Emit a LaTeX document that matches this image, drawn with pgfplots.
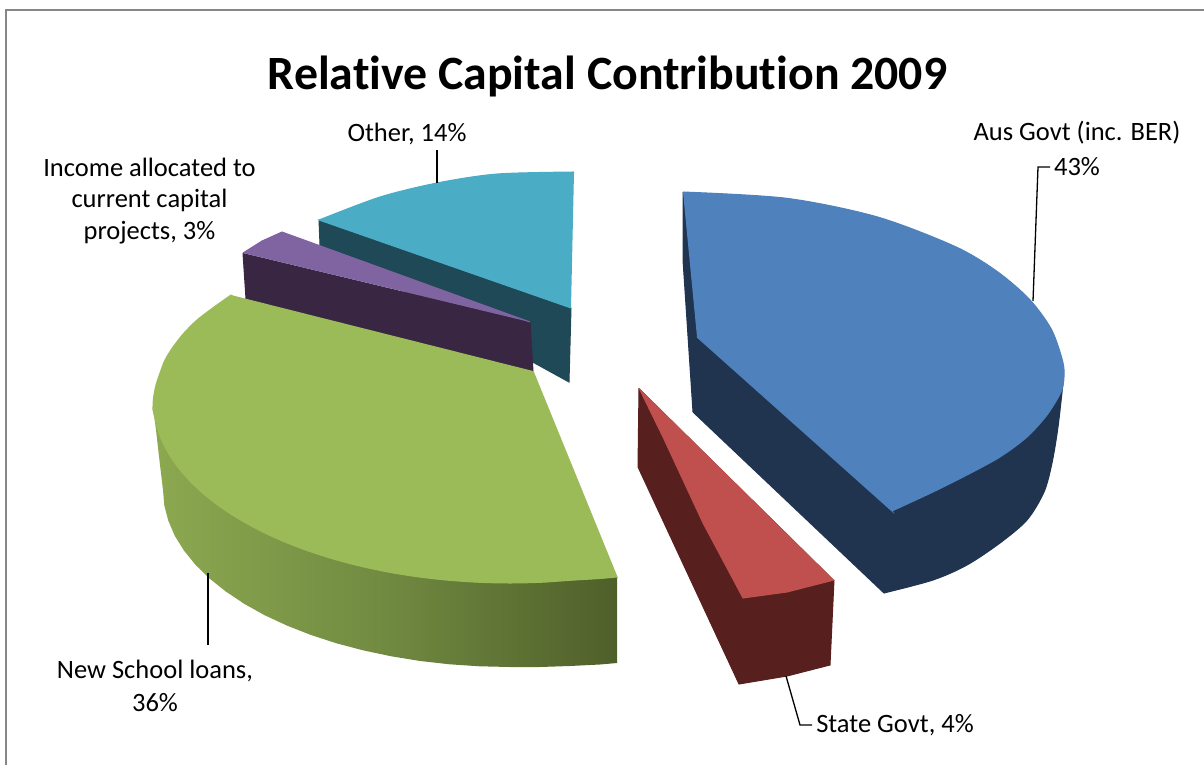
\documentclass[border=0pt]{standalone}
\usepackage{pgfplots}
\pgfplotsset{compat=1.18}
\usepackage{fontspec}
\setmainfont{Carlito}[Ligatures=CommonOff]
\definecolor{bluetop}{HTML}{4F81BD}
\definecolor{blueside}{HTML}{20344F}
\definecolor{redtop}{HTML}{C0504D}
\definecolor{redside}{HTML}{57201E}
\definecolor{greentop}{HTML}{9BBB59}
\definecolor{greenL}{HTML}{8CA950}
\definecolor{greenM}{HTML}{718A41}
\definecolor{greenR}{HTML}{4F5F2A}
\definecolor{purpletop}{HTML}{8064A2}
\definecolor{purpleside}{HTML}{382642}
\definecolor{tealtop}{HTML}{4BACC6}
\definecolor{tealside}{HTML}{1F4956}
\definecolor{frameline}{HTML}{868686}
\newcommand{\lab}{\fontsize{26.5}{33}\selectfont}
\begin{document}
\begin{tikzpicture}
\useasboundingbox (0,0) rectangle (1204pt,765pt);
\begin{axis}[
  scale only axis, width=1204pt, height=765pt,
  xmin=0, xmax=1204, ymin=0, ymax=765, y dir=reverse,
  hide axis, clip=false,
  every node/.append style={anchor=base, inner sep=0pt, outer sep=0pt},
  wedge/.style={draw=#1, line width=1pt, fill=#1},
  rim/.style={draw=#1, line width=1pt, fill=#1, smooth, tension=0.5},
]
% chart frame, top and left edges
\addplot[draw=frameline, line width=2pt] coordinates {(6,765) (6,10) (1204,10)};

% Other
\addplot[wedge=tealside] coordinates {(319,220) (320,245) (569,382) (571,308)};
\addplot[wedge=tealtop] coordinates {(574,172) (319,220) (571,308)};
\addplot[rim=tealtop] coordinates {(574,172) (497,174) (437,183) (380,197) (319,220)};
% Income allocated to current capital projects
\addplot[wedge=purpleside] coordinates {(243,253) (246,299) (533,371) (530,322)};
\addplot[wedge=purpletop] coordinates {(243,253) (262,241) (282,232) (530,322)};
% New School loans
\addplot[draw=none, left color=greenL, right color=greenR, middle color=greenM] coordinates {(153,407) (156,430) (160,465) (163,490) (164.3,505.4) (168.3,520.7) (174.8,535.8) (183.9,550.5) (195.5,564.8) (209.5,578.5) (225.8,591.5) (244.2,603.8) (264.6,615.2) (287,625.6) (311,635) (336.5,643.3) (363.4,650.4) (391.3,656.3) (420.2,661) (449.7,664.3) (479.8,666.3) (510,667) (540,667) (570,666) (600,664.5) (617,663) (617,577)};
\addplot[wedge=greentop] coordinates {(533,371) (617,577) (231,295)};
\addplot[rim=greentop] coordinates {(231,295) (214,307) (197,320) (184,333) (173,347) (165,360) (160,373) (156,385) (153.5,398) (153,410) (154.4,416) (158.4,431.8) (165.2,447.4) (174.5,462.6) (186.4,477.3) (200.8,491.5) (217.6,505) (236.5,517.6) (257.6,529.4) (280.5,540.2) (305.2,549.9) (331.5,558.5) (359.1,565.9) (387.9,572) (417.6,576.8) (448,580.2) (478.9,582.3) (510,583) (541,582.3) (572,580.2) (600,578.5) (617,577)};
% Aus Govt (inc. BER)
\addplot[wedge=blueside] coordinates {(683,192) (683,260) (693,412) (884,593) (1063,383)};
\addplot[rim=blueside] coordinates {(1063,383) (1058,427) (1052,463) (1044,492) (1027,520) (1000,543) (967,565) (933,580) (884,593)};
\addplot[wedge=bluetop] coordinates {(683,192) (892,511) (697,337)};
\addplot[rim=bluetop] coordinates {(683,192) (786.8,198.3) (877,216.8) (954.5,246.2) (996.4,270.9) (1029,298.8) (1051.3,329.1) (1062.6,360.9) (1064,377) (1061,392) (1047,415) (1027,437) (1000,457) (967,475) (933,492) (892,511)};
% State Govt
\addplot[wedge=redside] coordinates {(639,388) (638,467) (739,684) (787,676) (830,665) (834,580)};
\addplot[wedge=redtop] coordinates {(639,388) (663,437) (703,523) (743,598) (787,592) (834,580)};

% leader lines
\addplot[black, line width=1.3pt] coordinates {(1033,301) (1038,167) (1050,167)};
\addplot[black, line width=1.3pt] coordinates {(437,183) (437,150)};
\addplot[black, line width=1.3pt] coordinates {(208,573) (208,645)};
\addplot[black, line width=1.3pt] coordinates {(786,676) (800,725) (812,725)};

% title and labels
\node[font=\bfseries\fontsize{47.8}{57}\selectfont] at (axis cs:607.5,76) {Relative Capital Contribution 2009};
\node[font=\lab] at (axis cs:407,134) {Other, 14\%};
\node[font=\lab] at (axis cs:1077,133) {Aus Govt (inc. BER)};
\node[font=\lab] at (axis cs:1077,167) {43\%};
\node[font=\lab] at (axis cs:149.5,167) {Income allocated to};
\node[font=\lab] at (axis cs:149.5,200) {current capital};
\node[font=\lab] at (axis cs:149.5,233) {projects, 3\%};
\node[font=\lab] at (axis cs:155,671) {New School loans,};
\node[font=\lab] at (axis cs:155,703) {36\%};
\node[font=\lab] at (axis cs:895,725) {State Govt, 4\%};
\end{axis}
\end{tikzpicture}
\end{document}
